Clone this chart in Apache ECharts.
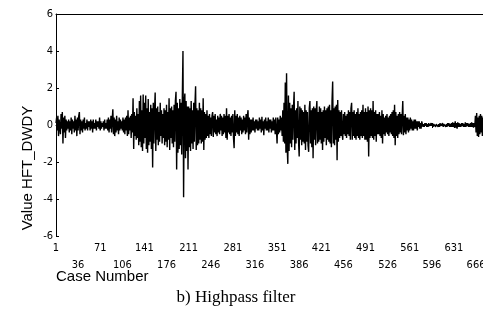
<!DOCTYPE html>
<html><head><meta charset="utf-8">
<script src="https://cdn.jsdelivr.net/npm/echarts@6/dist/echarts.min.js"></script>
<style>html,body{margin:0;padding:0;background:#fff}#c{width:483px;height:332px}</style>
</head><body><div id="c"></div>
<script>
// Highpass filtered values (HFT_DWDY) by case number
const hftValues = [
 0.1,0.4,-0.3,0.5,-0.6,0.3,0.2,-0.5,0.6,-0.2,0.7,-1.0,0.4,-0.4,0.5,-0.7,0.3,-0.3,0.2,-0.2,
 0.3,-0.4,0.2,-0.3,0.4,-0.5,0.3,-0.2,0.2,-0.4,0.5,-0.3,0.3,-0.6,0.4,-0.3,0.5,0.7,-0.5,0.3,
 -0.3,0.2,-0.4,0.3,-0.2,0.4,-0.3,0.1,-0.2,0.3,-0.3,0.2,-0.1,0.2,-0.3,0.3,-0.2,0.2,-0.4,0.3,
 -0.2,0.1,-0.2,0.3,-0.3,0.2,-0.1,0.2,-0.2,0.4,-0.3,0.2,-0.2,0.1,-0.1,0.2,-0.3,0.3,-0.2,0.1,-0.2,0.3,-0.3,0.4,-0.4,0.3,-0.2,0.5,-0.4,0.3,
 0.85,-0.5,0.4,-0.6,0.3,-0.4,0.5,-0.3,0.2,-0.5,0.4,-0.3,0.3,-0.2,0.2,-0.3,0.4,-0.4,0.3,-0.5,
 0.4,-0.3,0.5,-0.6,0.8,-0.5,0.4,-0.3,0.5,-0.7,0.6,-0.4,1.45,-1.3,0.7,-0.6,0.5,-0.8,0.9,-0.7,
 0.6,-1.1,1.3,-0.9,1.6,-1.2,0.8,-1.4,1.65,-1.0,1.2,-0.7,1.6,-1.3,0.9,-1.5,1.4,-1.1,0.7,-0.9,
 1.1,-1.3,0.9,-2.3,1.2,-1.0,0.8,1.75,-1.4,0.9,-0.8,1.0,-1.1,0.7,-0.9,1.2,-0.6,0.8,-1.0,0.6,
 -0.7,0.9,-1.1,0.8,-0.9,1.1,-1.2,0.7,-0.8,1.45,-1.35,0.9,-0.7,1.0,-1.0,0.8,-1.2,1.1,-0.9,1.3,
 1.8,-2.4,1.2,-1.5,0.9,-1.3,1.4,-1.1,1.2,-1.6,1.5,4.0,-3.9,1.2,1.7,-1.8,1.3,-1.4,1.0,-2.4,
 1.0,-1.2,0.9,-1.4,1.3,-1.0,0.8,-1.3,1.2,-0.9,1.1,2.1,-1.35,0.9,-1.1,0.8,-1.0,1.2,-0.8,0.9,
 -1.0,0.8,-0.9,1.45,-1.35,0.7,-0.8,0.6,-0.7,0.8,-0.6,0.5,-0.7,0.6,-0.5,0.4,-0.6,0.5,0.7,-0.65,
 0.5,-0.4,0.6,-0.5,0.3,-0.6,0.5,-0.4,0.4,-0.5,0.6,-0.3,0.5,-0.6,0.4,-0.5,0.6,-0.4,0.5,-0.7,0.9,-0.8,0.5,-0.4,0.6,-0.5,0.4,-0.6,0.5,-0.4,
 0.6,-0.7,-1.25,0.8,-0.6,0.5,-0.4,0.6,-0.5,0.4,-0.6,0.5,-0.3,0.4,-0.5,0.3,-0.4,0.5,-0.3,0.4,
 -0.5,0.6,-0.4,0.5,0.8,-0.8,0.4,-0.5,0.3,-0.4,0.3,-0.3,0.4,-0.3,0.2,-0.4,0.3,-0.2,0.3,-0.3,
 0.2,-0.3,0.4,-0.2,0.3,-0.4,0.45,-0.3,0.2,-0.55,0.3,-0.2,0.4,-0.3,0.2,-0.3,0.4,-0.4,0.3,-0.2,0.3,-0.4,0.2,-0.3,0.4,-0.3,0.3,-0.5,0.4,-0.3,
 -1.0,0.4,-0.5,0.3,-0.4,0.5,-0.3,0.4,-0.6,0.8,-0.9,1.2,-1.0,2.3,-1.5,2.8,-1.2,-2.1,1.6,-1.4,
 1.2,-1.0,0.9,-1.2,1.1,-0.8,0.9,1.8,-1.35,0.8,-1.0,0.9,-0.7,1.3,-0.9,-1.7,1.0,-0.8,0.9,-1.1,
 0.8,-0.9,0.7,-1.0,1.1,-1.35,0.8,-0.9,0.7,-1.1,-1.45,0.9,1.3,-1.0,0.8,-1.2,0.9,-1.8,1.0,-0.8,
 0.9,-1.1,0.8,1.3,-1.0,0.7,-0.9,1.0,-0.8,0.9,-1.0,0.7,-1.35,0.8,-0.9,1.0,-0.7,0.8,-1.1,0.9,
 -0.8,1.0,-0.9,1.1,-1.0,0.8,-1.2,1.3,2.35,-1.0,0.9,-1.1,1.0,-0.8,1.1,-1.9,1.35,-0.9,0.8,-0.7,
 0.7,-0.6,0.8,-0.5,-0.8,0.6,-0.5,0.7,-0.6,0.5,-0.7,0.6,-0.5,0.8,-0.6,0.7,-0.8,0.9,1.2,-0.8,
 0.7,-0.6,0.8,-0.7,0.6,-0.8,0.7,-0.6,0.9,-0.7,0.6,-0.8,0.7,-0.6,0.8,-0.7,1.1,-0.6,0.7,-0.8,
 0.9,-0.8,0.7,-0.9,1.0,-1.7,0.8,-0.7,0.9,-0.6,0.8,-0.7,1.3,-0.8,0.7,-0.6,0.8,-0.9,0.6,-0.5,
 0.6,-0.5,0.7,-0.6,0.5,-0.7,0.8,-1.0,0.6,-0.5,0.4,-0.6,0.5,-0.4,0.6,-0.5,0.4,-0.6,0.5,-0.4,
 0.6,-0.5,0.7,-0.6,0.8,-0.7,1.1,-1.1,0.7,-0.6,0.5,-0.7,0.6,-0.5,0.7,-0.4,0.6,-0.5,0.4,1.3,
 -0.55,0.5,-0.4,0.6,-0.5,0.4,-0.3,0.4,-0.4,0.3,-0.3,0.4,-0.2,0.3,-0.3,0.2,-0.3,0.3,-0.2,0.3,-0.2,0.2,-0.3,0.2,-0.1,0.2,-0.2,0.1,-0.2,0.2,
 0.1,-0.1,0.05,-0.1,0.1,-0.05,0.1,-0.1,0.05,-0.1,0.1,-0.05,0.05,-0.1,0.1,-0.05,0.1,-0.1,0.05,-0.05,
 0.1,-0.1,0.05,-0.05,0.1,-0.1,0.05,-0.1,0.1,-0.05,0.05,-0.1,0.1,-0.1,0.05,-0.05,0.1,-0.1,0.05,-0.1,
 0.1,-0.05,0.1,-0.1,0.05,-0.1,0.1,-0.1,0.15,-0.1,0.1,-0.15,0.2,-0.15,0.1,-0.2,0.15,-0.1,0.1,-0.1,
 0.05,-0.1,0.1,-0.05,0.1,-0.1,0.05,-0.1,0.15,-0.1,0.1,-0.05,0.1,-0.1,0.05,-0.1,0.1,-0.1,0.15,-0.1,0.1,-0.15,0.1,-0.1,
 0.5,-0.4,0.65,-0.6,0.4,-0.65,0.5,-0.5,0.6,-0.4,0.5,-0.6,0.4
];
// Case numbers on the category axis (the plot is cut at the right edge)
const caseCount = 677;
const caseNumbers = [];
for (let i = 1; i <= caseCount; i++) caseNumbers.push(String(i));
const labelStep = 35;           // 1, 36, 71, ... labelled
const yTicks = [-6, -4, -2, 0, 2, 4, 6];
const yAxisTitle = 'Value HFT_DWDY';
const xAxisTitle = 'Case Number';
const caption = 'b) Highpass filter';

const narrow = "'Liberation Sans Narrow','DejaVu Sans Condensed','Liberation Sans',Arial,sans-serif";
const chart = echarts.init(document.getElementById('c'), null, {renderer: 'canvas'});
chart.setOption({
  animation: false,
  backgroundColor: '#fff',
  grid: {left: 56, top: 14, right: 0, bottom: 96, show: false, containLabel: false, outerBoundsMode: 'none'},
  xAxis: [{
    type: 'category', data: caseNumbers, boundaryGap: false,
    axisLine: {lineStyle: {color: '#000', width: 1}},
    axisTick: {interval: labelStep - 1, length: 3, lineStyle: {color: '#000'}},
    axisLabel: {
      interval: labelStep - 1, margin: 4, color: '#000', fontSize: 11, lineHeight: 17,
      fontFamily: narrow,
      formatter: function (v, i) { return (Math.round(i / labelStep) % 2 === 1) ? '\n' + v : v; }
    },
    splitLine: {show: false}
  }, {
    type: 'category', data: caseNumbers, boundaryGap: false, position: 'top',
    axisLine: {show: true, lineStyle: {color: '#000', width: 1}},
    axisTick: {show: false}, axisLabel: {show: false}, splitLine: {show: false}
  }],
  yAxis: {
    type: 'value', min: yTicks[0], max: yTicks[yTicks.length - 1], interval: 2,
    axisLine: {show: true, lineStyle: {color: '#000', width: 1}},
    axisTick: {show: true, inside: true, length: 3, lineStyle: {color: '#000'}},
    axisLabel: {margin: 3, color: '#000', fontSize: 11, fontFamily: narrow},
    splitLine: {show: false}
  },
  series: [{
    type: 'line', data: hftValues, symbol: 'none', showSymbol: false,
    lineStyle: {color: '#000', width: 1.4}, silent: true
  }],
  graphic: [
    {type: 'text', x: 28, y: 168, rotation: Math.PI / 2,
     style: {text: yAxisTitle, fill: '#000', font: "15px 'Liberation Sans', Arial, sans-serif", align: 'center', verticalAlign: 'middle'}},
    {type: 'text', x: 56, y: 277,
     style: {text: xAxisTitle, fill: '#000', font: "15px 'Liberation Sans', Arial, sans-serif", align: 'left', verticalAlign: 'middle'}},
    {type: 'text', x: 236, y: 298,
     style: {text: caption, fill: '#000', font: "17px 'Liberation Serif', 'Times New Roman', serif", align: 'center', verticalAlign: 'middle'}}
  ]
});
</script></body></html>
